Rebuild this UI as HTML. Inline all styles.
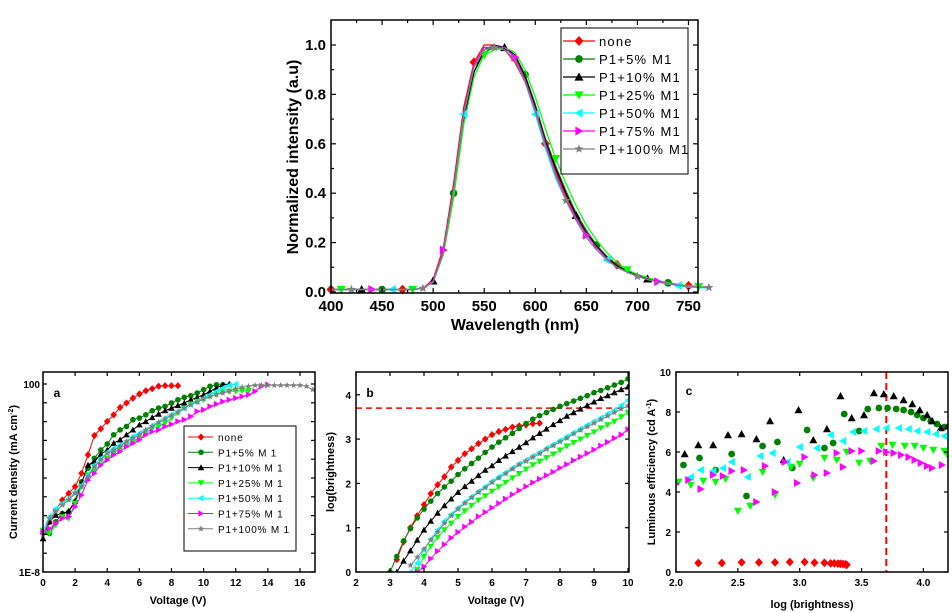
<!DOCTYPE html>
<html><head><meta charset="utf-8">
<style>
html,body{margin:0;padding:0;background:#fff;}
svg{display:block;font-family:"Liberation Sans",Arial,sans-serif;font-weight:bold;}
</style></head>
<body>
<svg id="fig" width="952" height="613" viewBox="0 0 952 613" xmlns="http://www.w3.org/2000/svg"></svg>
<script>
// ---------- Data: top spectra ----------
const wavelengths=[400,410,420,430,440,450,460,470,480,490,500,510,520,530,540,550,560,570,580,590,600,610,620,630,640,650,660,670,680,690,700,710,720,730,740,750,760,770];
const specNone=[0.01,0.01,0.01,0.01,0.01,0.01,0.01,0.01,0.01,0.015,0.05,0.18,0.44,0.75,0.93,1.0,1.0,0.98,0.93,0.85,0.74,0.6,0.49,0.39,0.31,0.24,0.185,0.14,0.11,0.085,0.068,0.055,0.045,0.038,0.03,0.025,0.02,0.02];
const spec5=[0.01,0.01,0.01,0.01,0.01,0.01,0.01,0.01,0.01,0.015,0.045,0.16,0.40,0.70,0.89,0.97,0.99,0.99,0.96,0.88,0.76,0.62,0.51,0.41,0.32,0.25,0.19,0.145,0.11,0.085,0.068,0.055,0.045,0.037,0.03,0.025,0.02,0.02];
const spec10=[0.01,0.01,0.01,0.01,0.01,0.01,0.01,0.01,0.01,0.015,0.045,0.16,0.40,0.70,0.89,0.98,1.0,0.99,0.96,0.87,0.75,0.61,0.5,0.4,0.31,0.24,0.185,0.14,0.105,0.082,0.066,0.053,0.043,0.036,0.03,0.025,0.02,0.02];
const spec25=[0.01,0.01,0.01,0.01,0.01,0.01,0.01,0.01,0.01,0.015,0.04,0.15,0.38,0.68,0.87,0.96,0.98,0.99,0.97,0.9,0.79,0.66,0.54,0.44,0.35,0.27,0.21,0.16,0.12,0.09,0.072,0.058,0.047,0.038,0.031,0.026,0.022,0.02];
const spec50=[0.01,0.01,0.01,0.01,0.01,0.01,0.01,0.01,0.01,0.015,0.04,0.16,0.41,0.72,0.91,0.99,0.99,0.98,0.94,0.85,0.72,0.58,0.46,0.37,0.29,0.22,0.17,0.13,0.1,0.08,0.062,0.05,0.04,0.032,0.026,0.02,0.018,0.015];
const spec75=[0.01,0.01,0.01,0.01,0.01,0.01,0.01,0.01,0.01,0.015,0.045,0.17,0.42,0.73,0.92,0.99,0.99,0.99,0.95,0.86,0.74,0.6,0.48,0.38,0.3,0.23,0.18,0.135,0.1,0.08,0.065,0.052,0.042,0.035,0.028,0.023,0.02,0.018];
const spec100=[0.01,0.01,0.01,0.01,0.01,0.01,0.01,0.01,0.01,0.015,0.04,0.16,0.41,0.72,0.91,0.98,0.99,0.98,0.94,0.85,0.73,0.59,0.47,0.37,0.29,0.22,0.17,0.13,0.1,0.08,0.063,0.05,0.04,0.033,0.027,0.022,0.02,0.018];
const topXTicks=[400,450,500,550,600,650,700,750];
const topYTicks=[0,0.2,0.4,0.6,0.8,1.0];
const topYLabels=["0.0","0.2","0.4","0.6","0.8","1.0"];

// ---------- Data: panel a (log10 J vs voltage, step 0.4 V from 0) ----------
const aStep=0.4;
const aNone=[-5.95,-5.33,-4.71,-4.17,-3.82,-3.46,-2.75,-1.77,-0.74,-0.38,0.01,0.36,0.75,0.99,1.25,1.47,1.64,1.75,1.88,1.91,1.91,1.91];
const a5=[-5.86,-5.95,-5.33,-4.89,-4.80,-4.26,-3.20,-2.48,-1.95,-1.51,-1.19,-0.70,-0.44,-0.26,0.10,0.19,0.36,0.58,0.72,0.81,0.99,1.16,1.29,1.38,1.52,1.70,1.88,1.96,1.96];
const a10=[-6.22,-5.33,-4.98,-4.89,-4.76,-4.23,-3.28,-2.31,-2.13,-1.74,-1.51,-1.15,-0.97,-0.70,-0.44,-0.17,0.01,0.22,0.40,0.58,0.72,0.86,0.99,1.16,1.29,1.43,1.61,1.79,1.96,2.0];
const a25=[-5.78,-5.95,-5.51,-5.06,-5.15,-4.35,-3.46,-2.84,-2.57,-2.31,-1.95,-1.68,-1.42,-1.24,-1.06,-0.88,-0.62,-0.35,-0.26,-0.08,0.19,0.45,0.72,0.93,1.07,1.16,1.34,1.43,1.57,1.61,1.61,1.64,1.64];
const a50=[-5.78,-5.06,-4.62,-4.35,-4.09,-3.73,-3.37,-2.84,-2.31,-1.95,-1.63,-1.42,-1.24,-1.06,-0.79,-0.62,-0.44,-0.21,-0.03,0.19,0.36,0.54,0.72,0.90,1.07,1.25,1.43,1.61,1.79,1.93,2.0];
const a75=[-5.86,-5.69,-5.42,-5.15,-5.06,-4.53,-3.91,-3.11,-2.75,-2.31,-2.04,-1.77,-1.59,-1.33,-1.15,-0.97,-0.70,-0.53,-0.44,-0.26,-0.14,0.01,0.10,0.27,0.54,0.63,0.81,0.93,1.07,1.16,1.25,1.34,1.43,1.61,1.88,1.96];
const a100=[-6.04,-5.15,-4.80,-4.44,-4.17,-3.82,-3.46,-2.93,-2.40,-2.04,-1.68,-1.51,-1.33,-1.06,-0.88,-0.70,-0.44,-0.26,-0.03,0.15,0.33,0.51,0.72,0.90,1.04,1.22,1.34,1.43,1.52,1.61,1.75,1.82,1.88,1.93,1.93,1.93,1.93,1.93,1.93,1.93,1.93,1.88,1.70];
const aXTicks=[0,2,4,6,8,10,12,14,16];

// ---------- Data: panel b (log brightness vs voltage, step 0.2 V) ----------
const bStep=0.2;
const bNoneStart=3.2, b5Start=3.0, b10Start=3.2, b25Start=3.8, b50Start=3.6, b75Start=3.8, b100Start=3.6;
const bNone=[0.28,0.68,1.0,1.27,1.52,1.77,1.97,2.15,2.37,2.52,2.67,2.78,2.9,3.0,3.1,3.17,3.22,3.27,3.3,3.32,3.35,3.36];
const b5=[0.0,0.35,0.7,0.98,1.22,1.42,1.6,1.77,1.92,2.05,2.2,2.33,2.45,2.57,2.7,2.82,2.93,3.03,3.13,3.24,3.35,3.45,3.53,3.6,3.67,3.74,3.8,3.86,3.92,3.98,4.05,4.1,4.16,4.22,4.28,4.36];
const b10=[0.0,0.25,0.48,0.72,0.95,1.15,1.33,1.5,1.65,1.8,1.93,2.05,2.18,2.3,2.4,2.52,2.62,2.72,2.82,2.92,3.03,3.13,3.23,3.33,3.42,3.52,3.6,3.68,3.76,3.84,3.92,3.98,4.05,4.12,4.18];
const b25=[0.05,0.35,0.58,0.78,0.95,1.1,1.25,1.38,1.5,1.62,1.72,1.82,1.92,2.02,2.12,2.22,2.32,2.42,2.5,2.58,2.66,2.75,2.84,2.92,3.0,3.08,3.16,3.25,3.32,3.4,3.5,3.6];
const b50=[0.0,0.2,0.5,0.75,0.95,1.15,1.3,1.45,1.58,1.7,1.82,1.93,2.05,2.15,2.25,2.35,2.45,2.53,2.62,2.7,2.8,2.88,2.97,3.06,3.15,3.23,3.32,3.4,3.48,3.57,3.66,3.76,3.88];
const b75=[0.0,0.12,0.3,0.47,0.62,0.77,0.9,1.02,1.13,1.25,1.35,1.45,1.55,1.65,1.75,1.84,1.93,2.02,2.1,2.18,2.26,2.35,2.43,2.52,2.6,2.68,2.76,2.85,2.93,3.02,3.1,3.22];
const b100=[0.15,0.33,0.52,0.72,0.9,1.1,1.27,1.42,1.55,1.68,1.8,1.9,2.02,2.12,2.22,2.32,2.42,2.5,2.59,2.67,2.77,2.85,2.94,3.02,3.12,3.2,3.28,3.36,3.44,3.52,3.6,3.68,3.75];
const bXTicks=[2,3,4,5,6,7,8,9,10];
const bYTicks=[0,1,2,3,4];
const bRefLevel=3.7;

// ---------- Data: panel c (efficiency vs log brightness) ----------
const cNoneX=[2.18,2.37,2.53,2.67,2.8,2.92,3.04,3.12,3.2,3.25,3.28,3.31,3.33,3.35,3.37,3.38];
const cNoneY=[0.45,0.45,0.48,0.48,0.48,0.5,0.5,0.47,0.46,0.43,0.43,0.42,0.41,0.4,0.38,0.36];
const c5X=[2.06,2.19,2.32,2.45,2.57,2.7,2.82,2.94,3.06,3.2,3.27,3.36,3.48,3.55,3.64,3.71,3.78,3.84,3.9,3.95,4.0,4.06,4.11,4.17];
const c5Y=[5.35,5.7,5.1,5.9,3.8,6.3,6.5,5.2,7.1,6.2,6.45,7.9,7.05,8.15,8.2,8.2,8.15,8.1,8.0,7.85,7.7,7.55,7.4,7.25];
const c10X=[2.07,2.18,2.3,2.42,2.53,2.65,2.76,2.87,2.99,3.11,3.22,3.33,3.42,3.52,3.6,3.68,3.76,3.84,3.91,3.97,4.03,4.07,4.14,4.2];
const c10Y=[5.9,6.35,6.35,6.85,6.9,6.65,7.55,5.6,8.1,6.6,7.15,8.8,7.7,7.85,8.95,8.9,8.8,8.6,8.4,8.1,7.85,7.55,7.2,7.3];
const c25X=[2.02,2.12,2.22,2.32,2.4,2.5,2.6,2.7,2.8,2.93,3.0,3.11,3.2,3.3,3.38,3.48,3.57,3.66,3.75,3.85,3.93,4.0,4.08,4.17,4.2];
const c25Y=[4.5,4.35,4.55,4.5,4.65,3.05,3.3,5.0,3.85,5.25,5.4,4.7,5.7,5.6,6.0,5.45,5.55,6.3,6.35,6.3,6.3,6.2,6.1,6.05,5.8];
const c50X=[2.12,2.2,2.3,2.38,2.45,2.58,2.68,2.78,2.9,3.0,3.14,3.25,3.35,3.43,3.52,3.62,3.7,3.8,3.88,3.95,4.03,4.1,4.17,4.22];
const c50Y=[4.75,5.1,5.05,5.2,5.5,4.75,5.8,5.95,5.5,6.25,6.2,6.85,6.55,7.0,7.05,7.15,7.2,7.2,7.15,7.05,7.0,6.9,6.8,6.85];
const c75X=[2.0,2.1,2.2,2.3,2.38,2.45,2.55,2.65,2.72,2.8,2.88,2.98,3.04,3.12,3.22,3.3,3.35,3.42,3.5,3.6,3.64,3.7,3.76,3.82,3.88,3.93,3.98,4.03,4.07,4.15];
const c75Y=[4.4,4.6,4.15,4.85,4.8,5.05,5.1,3.5,5.3,4.0,5.5,4.45,5.75,4.85,4.95,5.95,5.25,6.05,6.05,5.55,6.05,6.0,5.95,5.85,5.75,5.6,5.45,5.3,5.2,5.35];
const cXTicks=[2.0,2.5,3.0,3.5,4.0];
const cXLabels=["2.0","2.5","3.0","3.5","4.0"];
const cYTicks=[0,2,4,6,8,10];
const cRefX=3.7;

const legendLabels=["none","P1+5% M1","P1+10% M1","P1+25% M1","P1+50% M1","P1+75% M1","P1+100% M1"];
const colors=["#ff0000","#008000","#000000","#00ff00","#00ffff","#ff00ff","#808080"];
const shapes=["diamond","circle","up","down","left","right","star"];

// ---------- helpers ----------
const NS="http://www.w3.org/2000/svg";
const svg=document.getElementById('fig');
function el(tag,attrs,parent){const e=document.createElementNS(NS,tag);for(const k in attrs)e.setAttribute(k,attrs[k]);(parent||svg).appendChild(e);return e;}
function txt(s,x,y,size,anchor,parent,rot){const t=el('text',{x:x,y:y,'font-size':size,'text-anchor':anchor||'middle',fill:'#000'},parent);if(rot)t.setAttribute('transform','rotate(-90 '+x+' '+y+')');t.textContent=s;return t;}
function marker(shape,x,y,r,color,parent){
  let e;
  if(shape==='circle'){e=el('circle',{cx:x,cy:y,r:r*0.85,fill:color},parent);}
  else{
    let p;
    if(shape==='diamond')p=[[0,-r*1.1],[r,0],[0,r*1.1],[-r,0]];
    else if(shape==='up')p=[[0,-r],[r,r*0.8],[-r,r*0.8]];
    else if(shape==='down')p=[[0,r],[r,-r*0.8],[-r,-r*0.8]];
    else if(shape==='left')p=[[-r,0],[r*0.8,-r],[r*0.8,r]];
    else if(shape==='right')p=[[r,0],[-r*0.8,-r],[-r*0.8,r]];
    else {p=[];for(let i=0;i<10;i++){const a=-Math.PI/2+i*Math.PI/5;const rr=i%2?r*0.45:r*1.05;p.push([rr*Math.cos(a),rr*Math.sin(a)]);}}
    e=el('polygon',{points:p.map(q=>(x+q[0]).toFixed(1)+','+(y+q[1]).toFixed(1)).join(' '),fill:color},parent);
  }
  return e;
}
function frame(g,L,T,R,B){el('rect',{x:L,y:T,width:R-L,height:B-T,fill:'none',stroke:'#000','stroke-width':1.5},g);}
function tick(g,x1,y1,x2,y2){el('line',{x1:x1,y1:y1,x2:x2,y2:y2,stroke:'#000','stroke-width':1.2},g);}

// ---------- top panel ----------
(function(){
  const g=el('g',{});
  
  
  const L=331,R=698,T=20,B=293;
  const X=v=>331+(v-400)*1.0214, Y=v=>292-v*247;
  const series=[specNone,spec5,spec10,spec25,spec50,spec75,spec100];
  series.forEach((s,i)=>{
    const sg=el('g',{},g);
    
    
    const d=s.map((v,j)=>(j?'L':'M')+X(wavelengths[j]).toFixed(1)+' '+Y(v).toFixed(1)).join(' ');
    el('path',{d:d,fill:'none',stroke:colors[i],'stroke-width':1.2},sg);
    s.forEach((v,j)=>{if((j+i*2)%7===0){const m=marker(shapes[i],X(wavelengths[j]),Y(v),4.5,colors[i],sg);}});
  });
  frame(g,L,T,R,B);
  topXTicks.forEach(v=>{tick(g,X(v),B,X(v),B-5);tick(g,X(v),T,X(v),T+5);txt(String(v),X(v),311,15,'middle',g);});
  for(let v=425;v<770;v+=50){tick(g,X(v),B,X(v),B-3);tick(g,X(v),T,X(v),T+3);}
  topYTicks.forEach((v,i)=>{tick(g,L,Y(v),L+5,Y(v));tick(g,R,Y(v),R-5,Y(v));txt(topYLabels[i],L-5,Y(v)+5,15,'end',g);});
  for(let v=0.1;v<1.05;v+=0.2){tick(g,L,Y(v),L+3,Y(v));tick(g,R,Y(v),R-3,Y(v));}
  const xt=txt('Wavelength (nm)',515,330,16,'middle',g);
  const yt=txt('Normalized intensity (a.u)',298,157,16,'middle',g,true);
  const lg=el('g',{},g);
  el('rect',{x:561,y:28,width:127,height:146,fill:'#fff',stroke:'#000','stroke-width':1},lg);
  legendLabels.forEach((lab,i)=>{
    const y=41+i*18;
    const e=el('g',{},lg);
    el('line',{x1:563,y1:y,x2:595,y2:y,stroke:colors[i],'stroke-width':1.2},e);
    marker(shapes[i],579,y,4.5,colors[i],e);
    const t=txt(lab,599,y+5,13,'start',e);t.setAttribute('font-weight','normal');t.setAttribute('letter-spacing','1.2');
  });
})();

// ---------- panel a ----------
(function(){
  const g=el('g',{});
  
  
  const L=43,R=315,T=372,B=572;
  const X=v=>43+v*16.06, Y=v=>384+(2-v)*18.8;
  const series=[aNone,a5,a10,a25,a50,a75,a100];
  series.forEach((s,i)=>{
    const sg=el('g',{},g);
    const d=s.map((v,j)=>(j?'L':'M')+X(j*aStep).toFixed(1)+' '+Y(v).toFixed(1)).join(' ');
    el('path',{d:d,fill:'none',stroke:colors[i],'stroke-width':1},sg);
    s.forEach((v,j)=>{const m=marker(shapes[i],X(j*aStep),Y(v),3.3,colors[i],sg);});
  });
  frame(g,L,T,R,B);
  aXTicks.forEach(v=>{tick(g,X(v),B,X(v),B-4);tick(g,X(v),T,X(v),T+4);txt(String(v),X(v),586,10,'middle',g);});
  for(let d=-8;d<=2;d++){tick(g,L,Y(d),L+4,Y(d));tick(g,R,Y(d),R-4,Y(d));}
  txt('100',L-3,Y(2)+4,10,'end',g);txt('1E-8',L-3,Y(-8)+4,10,'end',g);
  txt('a',57,397,12,'middle',g);
  const xt=txt('Voltage (V)',178,604,11,'middle',g);
  const yt=el('text',{x:17,y:472,'font-size':11,'text-anchor':'middle',transform:'rotate(-90 17 472)'},g);
  yt.innerHTML='Current density (mA cm<tspan dy="-4" font-size="7">-2</tspan><tspan dy="4">)</tspan>';
  
  const lg=el('g',{},g);
  el('rect',{x:184,y:426,width:112,height:125,fill:'#fff',stroke:'#000','stroke-width':1},lg);
  legendLabels.forEach((lab,i)=>{
    const y=437+i*15.3;
    const e=el('g',{},lg);
    el('line',{x1:188,y1:y,x2:213,y2:y,stroke:colors[i],'stroke-width':1},e);
    marker(shapes[i],201,y,3.3,colors[i],e);
    const t=txt(lab.replace('M1','M 1'),218,y+4,10,'start',e);t.setAttribute('font-weight','normal');t.setAttribute('letter-spacing','0.8');
  });
})();

// ---------- panel b ----------
(function(){
  const g=el('g',{});
  
  
  const L=356,R=629,T=372,B=572;
  const X=v=>356+(v-2)*34.0, Y=v=>572-v*44.3;
  const cp=el('clipPath',{id:'clipb'},g);el('rect',{x:L,y:T,width:R-L,height:B-T},cp);
  const inner=el('g',{'clip-path':'url(#clipb)'},g);
  const series=[bNone,b5,b10,b25,b50,b75,b100];
  const starts=[bNoneStart,b5Start,b10Start,b25Start,b50Start,b75Start,b100Start];
  const rl=el('line',{x1:L,y1:Y(bRefLevel),x2:X(9.9),y2:Y(bRefLevel),stroke:'#ff0000','stroke-width':1.5,'stroke-dasharray':'6,4'},inner);
  
  series.forEach((s,i)=>{
    const sg=el('g',{},inner);
    const d=s.map((v,j)=>(j?'L':'M')+X(starts[i]+j*bStep).toFixed(1)+' '+Y(v).toFixed(1)).join(' ');
    el('path',{d:d,fill:'none',stroke:colors[i],'stroke-width':1},sg);
    s.forEach((v,j)=>{const m=marker(shapes[i],X(starts[i]+j*bStep),Y(v),3.3,colors[i],sg);});
  });
  frame(g,L,T,R,B);
  bXTicks.forEach(v=>{tick(g,X(v),B,X(v),B-4);tick(g,X(v),T,X(v),T+4);txt(String(v),X(v),586,10,'middle',g);});
  bYTicks.forEach(v=>{tick(g,L,Y(v),L+4,Y(v));tick(g,R,Y(v),R-4,Y(v));txt(String(v),L-5,Y(v)+4,10,'end',g);});
  txt('b',370,397,12,'middle',g);
  const xt=txt('Voltage (V)',496,604,11,'middle',g);
  const yt=txt('log(brightness)',334,472,11,'middle',g,true);
})();

// ---------- panel c ----------
(function(){
  const g=el('g',{});
  
  
  const L=676,R=948,T=372,B=572;
  const X=v=>676+(v-2)*123.7, Y=v=>572-v*20;
  const cp=el('clipPath',{id:'clipc'},g);el('rect',{x:L,y:T,width:R-L,height:B-T},cp);
  const inner=el('g',{'clip-path':'url(#clipc)'},g);
  const rl=el('line',{x1:X(cRefX),y1:T,x2:X(cRefX),y2:B,stroke:'#ff0000','stroke-width':2,'stroke-dasharray':'7,4'},inner);
  
  const xs=[cNoneX,c5X,c10X,c25X,c50X,c75X], ys=[cNoneY,c5Y,c10Y,c25Y,c50Y,c75Y];
  xs.forEach((sx,i)=>{
    const sg=el('g',{},inner);
    sx.forEach((v,j)=>{const m=marker(shapes[i],X(v),Y(ys[i][j]),4,colors[i],sg);});
  });
  frame(g,L,T,R,B);
  cXTicks.forEach((v,i)=>{tick(g,X(v),B,X(v),B-4);tick(g,X(v),T,X(v),T+4);txt(cXLabels[i],X(v),586,10,'middle',g);});
  cYTicks.forEach(v=>{tick(g,L,Y(v),L+4,Y(v));tick(g,R,Y(v),R-4,Y(v));txt(String(v),L-5,Y(v)+4,10,'end',g);});
  txt('c',689,395,12,'middle',g);
  const xt=txt('log (brightness)',812,608,11,'middle',g);
  const yt=el('text',{x:655,y:472,'font-size':11,'text-anchor':'middle',transform:'rotate(-90 655 472)'},g);
  yt.innerHTML='Luminous efficiency (cd A<tspan dy="-4" font-size="7">-1</tspan><tspan dy="4">)</tspan>';
  
})();
</script>
</body></html>
